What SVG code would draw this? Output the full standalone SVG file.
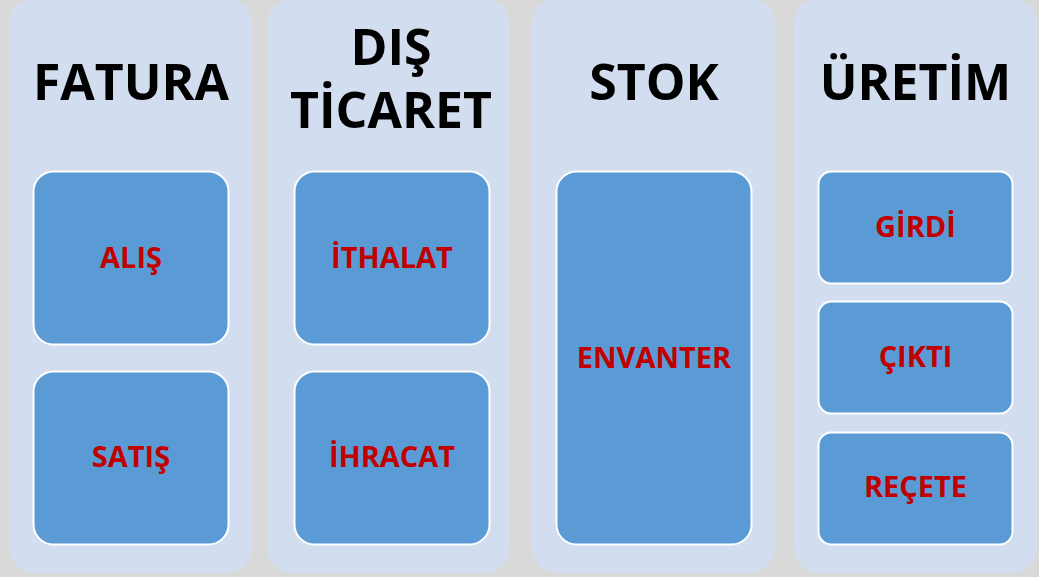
<svg xmlns="http://www.w3.org/2000/svg" width="1039" height="577" viewBox="0 0 1039 577">
<style>
.bg{fill:#D9D9D9}
.panel{fill:#D2DEEF}
.box{fill:#5B9BD5;stroke:#FFFFFF;stroke-width:2}
.title{font-family:"Open Sans","Liberation Sans",sans-serif;font-weight:bold;font-size:50px;fill:#000000;text-anchor:middle}
.lbl{font-family:"Open Sans","Liberation Sans",sans-serif;font-weight:bold;font-size:29px;fill:#C00000;text-anchor:middle}
</style>
<rect class="bg" x="0" y="0" width="1039" height="577"/>
<g id="fatura">
<rect class="panel" x="9" y="-2" width="243" height="575" rx="26"/>
<text class="title" x="131" y="100">FATURA</text>
<g id="alis"><rect class="box" x="33.5" y="171.5" width="195" height="173" rx="20"/><text class="lbl" x="131" y="268">ALIŞ</text></g>
<g id="satis"><rect class="box" x="33.5" y="371.5" width="195" height="173" rx="20"/><text class="lbl" x="131" y="467">SATIŞ</text></g>
</g>
<g id="dis-ticaret">
<rect class="panel" x="267" y="-2" width="243" height="575" rx="26"/>
<text class="title" x="391" y="65">DIŞ<tspan x="391" dy="63">TİCARET</tspan></text>
<g id="ithalat"><rect class="box" x="294.5" y="171.5" width="195" height="173" rx="20"/><text class="lbl" x="392" y="268">İTHALAT</text></g>
<g id="ihracat"><rect class="box" x="294.5" y="371.5" width="195" height="173" rx="20"/><text class="lbl" x="392" y="467">İHRACAT</text></g>
</g>
<g id="stok">
<rect class="panel" x="532" y="-2" width="243" height="575" rx="26"/>
<text class="title" x="654" y="100">STOK</text>
<g id="envanter"><rect class="box" x="556.5" y="171.5" width="195" height="373" rx="20"/><text class="lbl" x="654" y="368">ENVANTER</text></g>
</g>
<g id="uretim">
<rect class="panel" x="794" y="-2" width="243" height="575" rx="26"/>
<text class="title" x="915.5" y="100">ÜRETİM</text>
<g id="girdi"><rect class="box" x="818.5" y="171.5" width="194" height="112" rx="13"/><text class="lbl" x="915.5" y="237">GİRDİ</text></g>
<g id="cikti"><rect class="box" x="818.5" y="301.5" width="194" height="112" rx="13"/><text class="lbl" x="915.5" y="367">ÇIKTI</text></g>
<g id="recete"><rect class="box" x="818.5" y="432.5" width="194" height="112" rx="13"/><text class="lbl" x="915.5" y="497">REÇETE</text></g>
</g>
<g id="connectors"></g>
</svg>
